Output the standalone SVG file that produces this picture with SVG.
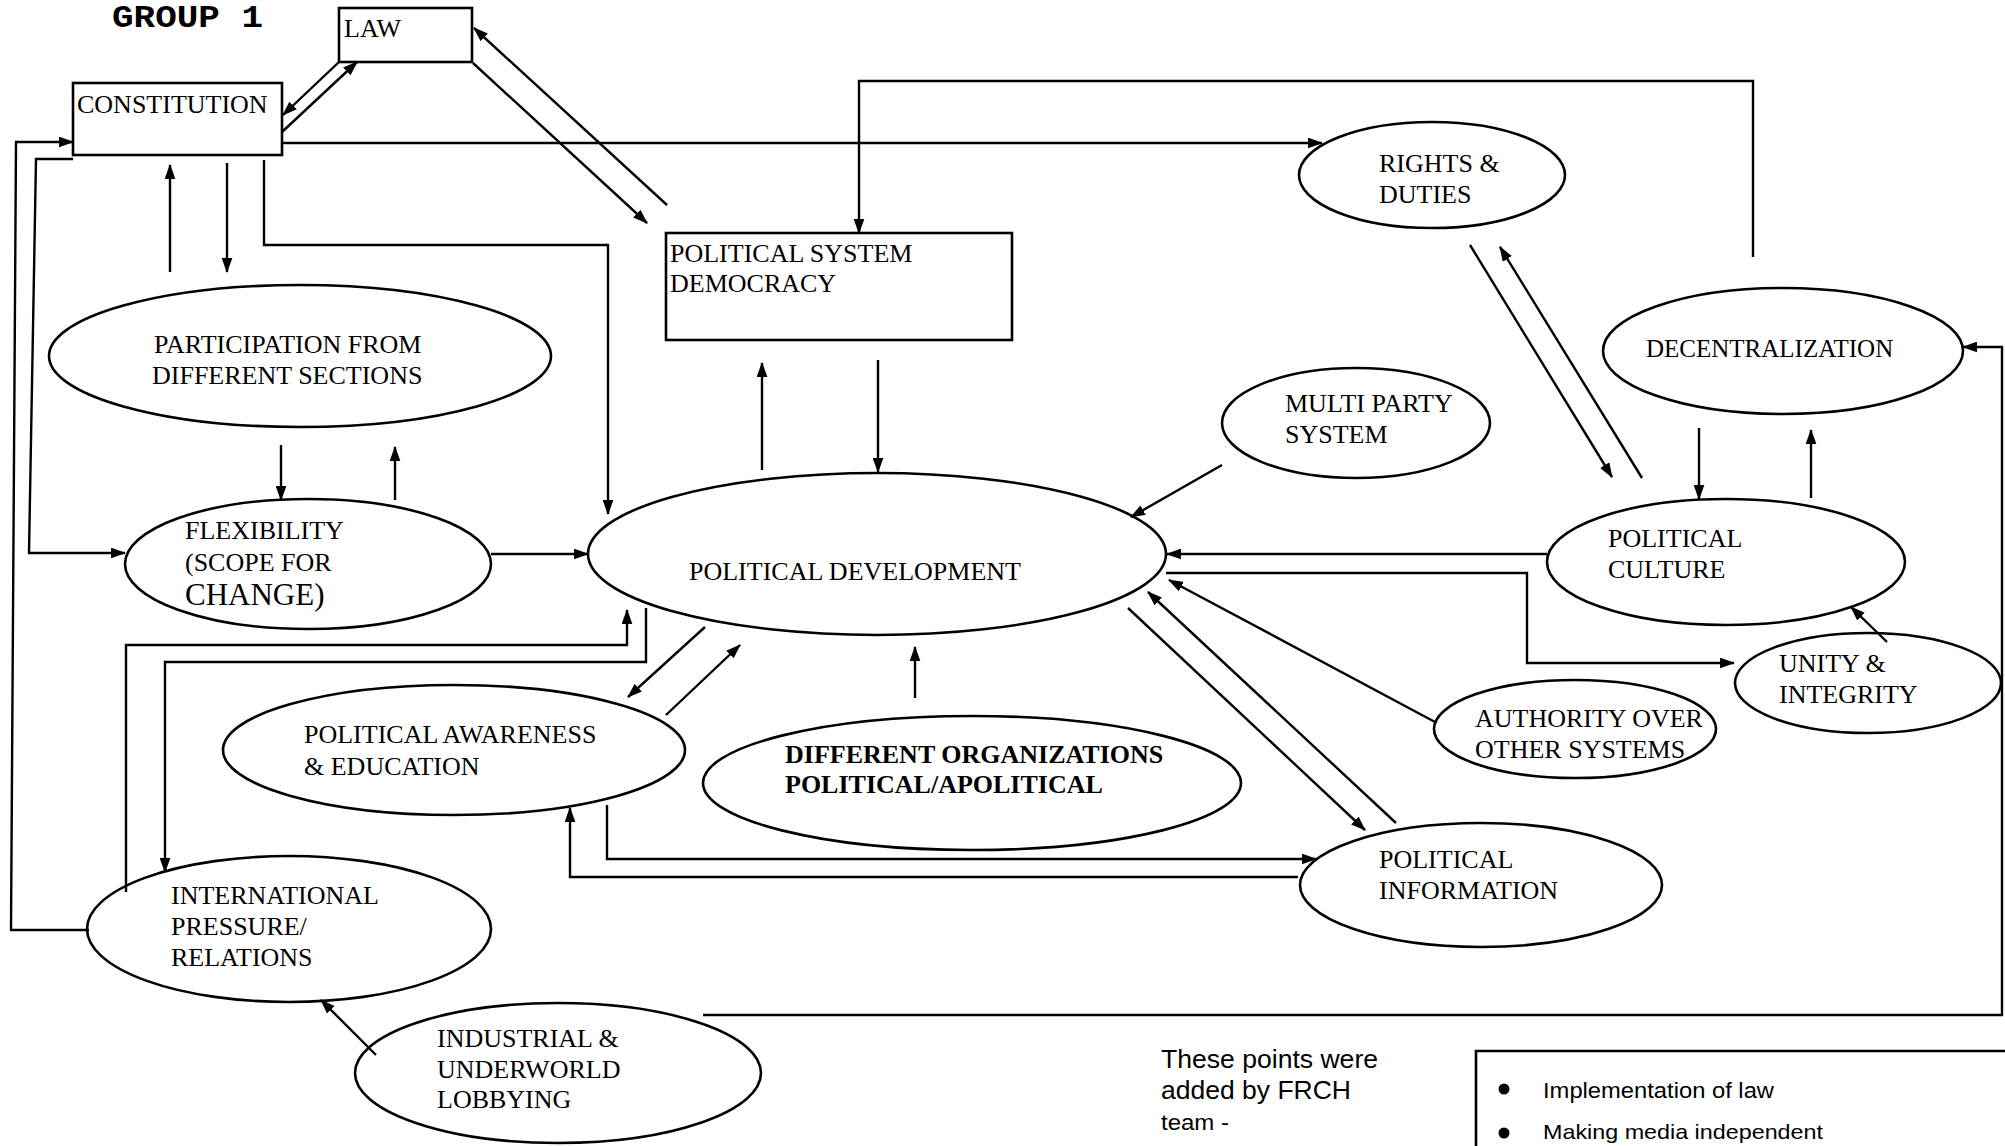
<svg xmlns="http://www.w3.org/2000/svg" width="2005" height="1146" viewBox="0 0 2005 1146">
<style>
.bg{fill:#fff}
.nd{fill:none;stroke:#000;stroke-width:2.6}
.t{font-family:"Liberation Serif","Times New Roman",serif;font-size:26px;fill:#000}
.b{font-weight:bold}
.s{font-family:"Liberation Sans",Arial,sans-serif;fill:#000}
.c path{fill:none;stroke:#000;stroke-width:2.4;stroke-linejoin:miter}
.c path.a{marker-end:url(#ah)}
</style>
<defs>
<marker id="ah" viewBox="0 0 14 10" refX="13" refY="5" markerWidth="15" markerHeight="11" markerUnits="userSpaceOnUse" orient="auto">
<path d="M0,0 L14,5 L0,10 z" fill="#000"/>
</marker>
</defs>
<rect class="bg" x="0" y="0" width="2005" height="1146"/>

<text x="112" y="27" textLength="151" lengthAdjust="spacingAndGlyphs" style="font-family:'Liberation Mono','Courier New',monospace;font-weight:bold;font-size:31px">GROUP 1</text>

<g class="c" id="connectors">
<path class="a" d="M339,62 L283,115"/>
<path class="a" d="M282,132 L357,62"/>
<path class="a" d="M473,63 L647,223"/>
<path class="a" d="M667,205 L474,28"/>
<path class="a" d="M282,143 L1322,143"/>
<path class="a" d="M89,930 L11,930 L16,142 L73,142"/>
<path class="a" d="M73,159 L36,159 L29,553 L125,553"/>
<path class="a" d="M170,272 L170,165"/>
<path class="a" d="M227,163 L227,272"/>
<path class="a" d="M264,160 L264,245 L608,245 L608,514"/>
<path class="a" d="M1753,257 L1753,81 L859,81 L859,233"/>
<path class="a" d="M762,470 L762,363"/>
<path class="a" d="M878,360 L878,472"/>
<path class="a" d="M1222,465 L1131,517"/>
<path class="a" d="M491,554 L588,554"/>
<path class="a" d="M281,445 L281,500"/>
<path class="a" d="M395,500 L395,447"/>
<path class="a" d="M126,892 L126,645 L627,645 L627,610"/>
<path class="a" d="M646,608 L646,662 L165,662 L165,872"/>
<path class="a" d="M705,627 L628,697"/>
<path class="a" d="M666,715 L740,645"/>
<path class="a" d="M915,698 L915,647"/>
<path class="a" d="M607,805 L607,859 L1316,859"/>
<path class="a" d="M1298,877 L570,877 L570,808"/>
<path class="a" d="M1128,608 L1365,830"/>
<path class="a" d="M1396,823 L1148,592"/>
<path class="a" d="M1435,722 L1169,580"/>
<path class="a" d="M1547,554 L1167,554"/>
<path class="a" d="M1166,573 L1527,573 L1527,663 L1734,663"/>
<path class="a" d="M1811,498 L1811,430"/>
<path class="a" d="M1699,428 L1699,499"/>
<path class="a" d="M1470,245 L1612,477"/>
<path class="a" d="M1642,478 L1500,247"/>
<path class="a" d="M703,1015 L2002,1015 L2002,347 L1963,347"/>
<path class="a" d="M1887,642 L1851,607"/>
<path class="a" d="M376,1055 L321,1000"/>
</g>

<g id="law"><rect class="nd" x="339" y="8" width="133" height="54"/><text class="t" x="344" y="37">LAW</text></g>
<g id="constitution"><rect class="nd" x="73" y="83" width="209" height="72"/><text class="t" x="77" y="113">CONSTITUTION</text></g>
<g id="political-system"><rect class="nd" x="666" y="233" width="346" height="107"/><text class="t" x="670" y="262">POLITICAL SYSTEM</text><text class="t" x="670" y="292">DEMOCRACY</text></g>
<g id="rights"><ellipse class="nd" cx="1432" cy="175" rx="133" ry="53"/><text class="t" x="1379" y="172">RIGHTS &amp;</text><text class="t" x="1379" y="203">DUTIES</text></g>
<g id="participation"><ellipse class="nd" cx="300" cy="356" rx="251" ry="71"/><text class="t" x="154" y="353">PARTICIPATION FROM</text><text class="t" x="152" y="384">DIFFERENT SECTIONS</text></g>
<g id="decentralization"><ellipse class="nd" cx="1783" cy="351" rx="180" ry="63"/><text class="t" x="1646" y="357" style="font-size:25px">DECENTRALIZATION</text></g>
<g id="multi-party"><ellipse class="nd" cx="1356" cy="423" rx="134" ry="55"/><text class="t" x="1285" y="412">MULTI PARTY</text><text class="t" x="1285" y="443">SYSTEM</text></g>
<g id="flexibility"><ellipse class="nd" cx="308" cy="564" rx="183" ry="65"/><text class="t" x="185" y="539">FLEXIBILITY</text><text class="t" x="185" y="571">(SCOPE FOR</text><text class="t" x="185" y="605" style="font-size:31px">CHANGE)</text></g>
<g id="political-development"><ellipse class="nd" cx="877" cy="554" rx="289" ry="81"/><text class="t" x="689" y="580">POLITICAL DEVELOPMENT</text></g>
<g id="political-culture"><ellipse class="nd" cx="1726" cy="562" rx="179" ry="63"/><text class="t" x="1608" y="547">POLITICAL</text><text class="t" x="1608" y="578">CULTURE</text></g>
<g id="unity"><ellipse class="nd" cx="1868" cy="683" rx="133" ry="50"/><text class="t" x="1779" y="672">UNITY &amp;</text><text class="t" x="1779" y="703">INTEGRITY</text></g>
<g id="authority"><ellipse class="nd" cx="1575" cy="729" rx="141" ry="49"/><text class="t" x="1475" y="727">AUTHORITY OVER</text><text class="t" x="1475" y="758">OTHER SYSTEMS</text></g>
<g id="awareness"><ellipse class="nd" cx="454" cy="750" rx="231" ry="65"/><text class="t" x="304" y="743">POLITICAL AWARENESS</text><text class="t" x="304" y="775">&amp; EDUCATION</text></g>
<g id="organizations"><ellipse class="nd" cx="972" cy="783" rx="269" ry="67"/><text class="t b" x="785" y="763">DIFFERENT ORGANIZATIONS</text><text class="t b" x="785" y="793">POLITICAL/APOLITICAL</text></g>
<g id="information"><ellipse class="nd" cx="1481" cy="885" rx="181" ry="62"/><text class="t" x="1379" y="868">POLITICAL</text><text class="t" x="1379" y="899">INFORMATION</text></g>
<g id="international"><ellipse class="nd" cx="289" cy="929" rx="202" ry="73"/><text class="t" x="171" y="904">INTERNATIONAL</text><text class="t" x="171" y="935">PRESSURE/</text><text class="t" x="171" y="966">RELATIONS</text></g>
<g id="industrial"><ellipse class="nd" cx="558" cy="1073" rx="203" ry="70"/><text class="t" x="437" y="1047">INDUSTRIAL &amp;</text><text class="t" x="437" y="1078">UNDERWORLD</text><text class="t" x="437" y="1108">LOBBYING</text></g>

<g id="note">
<text class="s" x="1161" y="1068" style="font-size:25px" textLength="217" lengthAdjust="spacingAndGlyphs">These points were</text>
<text class="s" x="1161" y="1099" style="font-size:25px" textLength="190" lengthAdjust="spacingAndGlyphs">added by FRCH</text>
<text class="s" x="1161" y="1130" style="font-size:22px" textLength="68" lengthAdjust="spacingAndGlyphs">team -</text>
</g>
<g id="points">
<path d="M1476,1146 L1476,1051 L2005,1051" fill="none" stroke="#000" stroke-width="2.6"/>
<circle cx="1504" cy="1089" r="5.5" fill="#000"/>
<text class="s" x="1543" y="1098" style="font-size:22px" textLength="231" lengthAdjust="spacingAndGlyphs">Implementation of law</text>
<circle cx="1504" cy="1133" r="5.5" fill="#000"/>
<text class="s" x="1543" y="1139" style="font-size:21px" textLength="280" lengthAdjust="spacingAndGlyphs">Making media independent</text>
</g>
</svg>
